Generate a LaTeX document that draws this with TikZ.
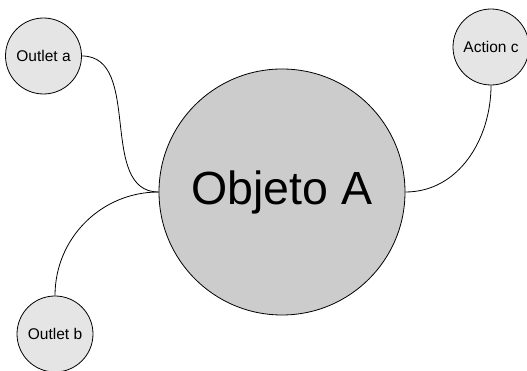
\documentclass[tikz,border=0pt]{standalone}
\usepackage{fontspec}
\setmainfont{Liberation Sans}
\usepackage{tikz}
\usetikzlibrary{positioning}

\begin{document}
\begin{tikzpicture}[x=1pt, y=1pt,
    small/.style={circle, draw, line width=0.8pt, fill=gray!20, minimum size=76pt, inner sep=0pt, font=\fontsize{15.5}{18}\selectfont},
    big/.style={circle, draw, line width=0.8pt, fill=gray!40, minimum size=246pt, inner sep=0pt, font=\fontsize{46.5}{50}\selectfont},
    link/.style={draw, line width=0.8pt}]
          \useasboundingbox (0, 0) rectangle (527, 371);
          \node[big] at (282, 179) (obj) {Objeto A};
          \node[small] at (43.5, 315) (oa) {Outlet a};
          \node[small] at (55, 37) (ob) {Outlet b};
          \node[small] at (491, 324) (ac) {Action c};
          \draw[link] (oa.east) to[out=0, in=180] (obj.west);
          \draw[link] (ob.north) to[out=90, in=180] (obj.west);
          \draw[link] (ac.south) to[out=-90, in=0] (obj.east);
        \end{tikzpicture}
\end{document}
